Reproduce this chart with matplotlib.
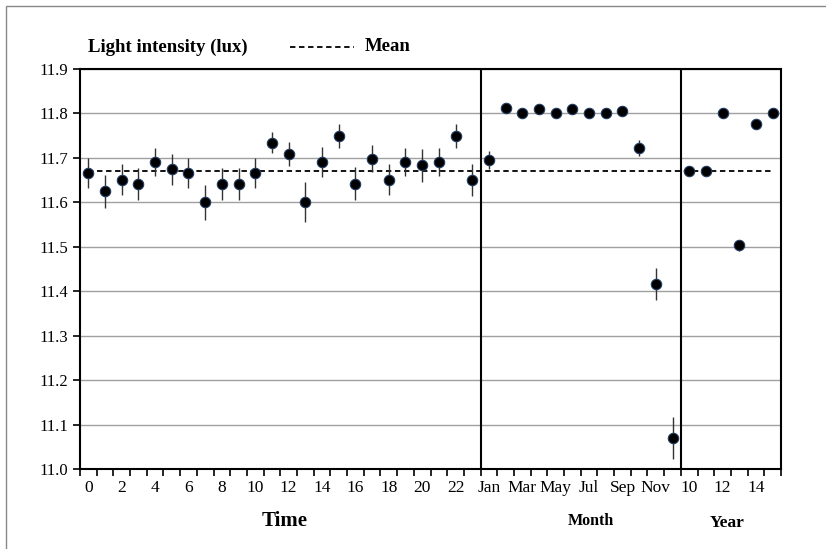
import matplotlib.pyplot as plt
from matplotlib.patches import Rectangle
import numpy as np

plt.rcParams['font.family'] = ['Liberation Serif', 'DejaVu Serif']

hours = [str(h) for h in range(24)]
months = ['Jan', 'Feb', 'Mar', 'Apr', 'May', 'Jun',
          'Jul', 'Aug', 'Sep', 'Oct', 'Nov', 'Dec']
years = ['10', '11', '12', '13', '14', '15']

hour_mean = [11.666, 11.625, 11.651, 11.642, 11.691, 11.674, 11.666, 11.600,
             11.642, 11.642, 11.666, 11.734, 11.709, 11.600, 11.691, 11.750,
             11.642, 11.698, 11.651, 11.691, 11.683, 11.691, 11.750, 11.651]
hour_err = [0.033, 0.037, 0.035, 0.036, 0.031, 0.034, 0.033, 0.040,
            0.036, 0.036, 0.033, 0.024, 0.027, 0.045, 0.033, 0.027,
            0.037, 0.030, 0.035, 0.031, 0.037, 0.031, 0.027, 0.036]

month_mean = [11.695, 11.812, 11.800, 11.810, 11.800, 11.810,
              11.800, 11.800, 11.805, 11.722, 11.417, 11.070]
month_err = [0.020, 0.004, 0.004, 0.004, 0.004, 0.004,
             0.004, 0.004, 0.004, 0.018, 0.036, 0.048]

year_mean = [11.670, 11.670, 11.801, 11.503, 11.777, 11.800]
year_err = [0.004, 0.004, 0.004, 0.012, 0.004, 0.004]

overall_mean = 11.67

labels = hours + months + years
values = hour_mean + month_mean + year_mean
errors = hour_err + month_err + year_err
x = np.arange(len(labels))

fig = plt.figure(figsize=(8.26, 5.49), dpi=100)
ax = fig.add_axes([80 / 826, 80 / 549, 701 / 826, 400 / 549])

ax.set_ylim(11.0, 11.9)
ax.set_xlim(-0.5, len(labels) - 0.5)
ax.set_yticks(np.arange(11.0, 11.91, 0.1))
ax.set_yticklabels(['%.1f' % v for v in np.arange(11.0, 11.91, 0.1)], fontsize=12)
ax.yaxis.grid(True, color='#a0a0a0', linewidth=1)
ax.set_axisbelow(True)

# category ticks at boundaries, labels every second category
ax.set_xticks(np.arange(-0.5, len(labels), 1), minor=True)
ax.set_xticks(x[::2])
ax.set_xticklabels(labels[::2], fontsize=12.5)
ax.tick_params(axis='x', which='major', length=0, pad=8)
ax.tick_params(axis='x', which='minor', length=5, width=1.2, direction='out')
ax.tick_params(axis='y', length=5, width=1.2, direction='out')
for s in ax.spines.values():
    s.set_linewidth(1.5)

ax.axvline(23.5, color='black', linewidth=1.5)
ax.axvline(35.5, color='black', linewidth=1.5)

ax.plot([x[0], x[-1]], [overall_mean, overall_mean], color='black',
        linestyle=(0, (3, 2)), linewidth=1.3, zorder=2)

ax.errorbar(x, values, yerr=errors, fmt='o', color='black', ecolor='#333333',
            elinewidth=1, capsize=0, markersize=7.5, markeredgecolor='#1f3a60',
            markeredgewidth=0.8, zorder=3)

fig.text(88 / 826, 1 - 47 / 549, 'Light intensity (lux)', fontsize=13.5,
         fontweight='bold', va='center', ha='left')
fig.add_artist(plt.Line2D([290 / 826, 354 / 826], [1 - 47 / 549, 1 - 47 / 549],
                          color='black', linestyle=(0, (3, 2)), linewidth=1.3))
fig.text(365 / 826, 1 - 47 / 549, 'Mean', fontsize=13.5, fontweight='bold',
         va='center', ha='left')

fig.text(285 / 826, 1 - 521 / 549, 'Time', fontsize=15, fontweight='bold',
         ha='center', va='center')
fig.text(591 / 826, 1 - 521 / 549, 'Month', fontsize=11.5, fontweight='bold',
         ha='center', va='center')
fig.text(727 / 826, 1 - 523 / 549, 'Year', fontsize=12.5, fontweight='bold',
         ha='center', va='center')

fig.add_artist(Rectangle((6 / 826, -0.1), 1.0, 1 - 6 / 549 + 0.1,
                         transform=fig.transFigure, fill=False,
                         edgecolor='#888888', linewidth=1))

fig.savefig('out.png', dpi=100)
